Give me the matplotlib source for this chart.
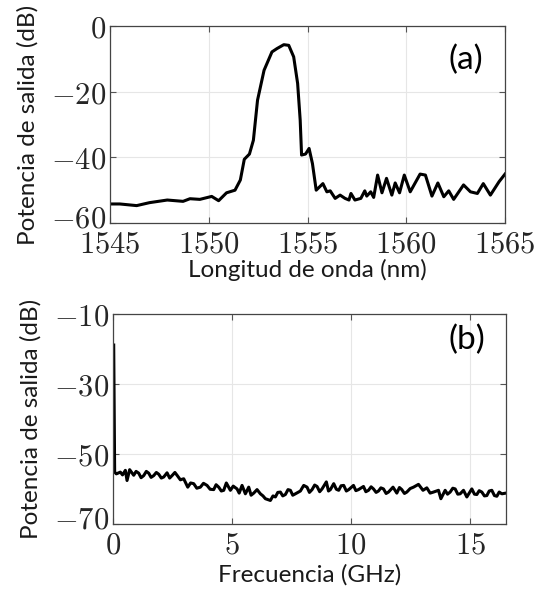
import matplotlib
matplotlib.use("Agg")
import matplotlib.pyplot as plt
from matplotlib.transforms import ScaledTranslation

plt.rcParams['mathtext.fontset'] = 'cm'

# Panel (a): optical spectrum
wl_nm = [1545.0, 1545.5, 1546.35, 1547.0, 1547.9, 1548.7, 1549.05, 1549.55, 1550.15, 1550.5,
         1550.9, 1551.33, 1551.6, 1551.8, 1552.06, 1552.26, 1552.47, 1552.8, 1553.2, 1553.45,
         1553.8, 1554.05, 1554.3, 1554.5, 1554.63, 1554.7, 1554.9, 1555.08, 1555.25, 1555.44,
         1555.78, 1555.98, 1556.15, 1556.4, 1556.65, 1556.9, 1557.1, 1557.2, 1557.4, 1557.7,
         1557.9, 1558.0, 1558.2, 1558.35, 1558.55, 1558.77, 1559.0, 1559.27, 1559.44, 1559.66,
         1559.9, 1560.2, 1560.7, 1560.97, 1561.3, 1561.6, 1561.9, 1562.15, 1562.4, 1562.9,
         1563.25, 1563.6, 1563.9, 1564.26, 1564.7, 1565.0]
power_a = [-54.2, -54.2, -54.7, -53.8, -53.0, -53.4, -52.6, -52.8, -51.9, -53.2,
           -50.8, -50.0, -46.9, -40.6, -39.0, -34.8, -22.6, -13.5, -7.9, -6.9,
           -5.7, -5.9, -9.4, -17.5, -28.7, -39.3, -39.0, -37.3, -41.9, -50.0,
           -48.0, -50.5, -50.2, -52.5, -51.5, -52.5, -53.0, -51.0, -53.0, -52.5,
           -50.2, -51.8, -50.5, -52.2, -45.4, -50.8, -46.4, -51.5, -47.8, -50.8,
           -45.4, -50.5, -45.1, -45.4, -51.8, -47.8, -52.0, -50.2, -52.8, -48.4,
           -50.5, -51.0, -48.0, -51.5, -47.4, -45.1]

# Panel (b): electrical spectrum
freq_ghz = [0.03, 0.07, 0.14, 0.31, 0.40, 0.52, 0.59, 0.70, 0.87, 0.97, 1.08, 1.18, 1.29, 1.40,
            1.50, 1.60, 1.71, 1.82, 1.92, 2.03, 2.13,
            2.27, 2.38, 2.48, 2.60, 2.69, 2.83, 2.97, 3.14, 3.26, 3.39, 3.52, 3.67, 3.80, 3.95,
            4.08, 4.23, 4.33, 4.44, 4.55, 4.65, 4.76, 4.93,
            5.05, 5.21, 5.30, 5.42, 5.56, 5.70, 5.80, 5.91, 6.05, 6.19, 6.30, 6.40, 6.61, 6.72,
            6.82, 6.92, 7.03, 7.13, 7.24, 7.35, 7.45, 7.55, 7.66,
            7.87, 8.01, 8.15, 8.25, 8.36, 8.47, 8.57, 8.68, 8.78, 8.96, 9.05, 9.13, 9.27, 9.38,
            9.48, 9.58, 9.69, 9.80, 9.90, 10.10, 10.20, 10.31,
            10.52, 10.62, 10.73, 10.84, 10.94, 11.05, 11.15, 11.25, 11.36, 11.47, 11.57, 11.76,
            11.92, 12.03, 12.13, 12.24, 12.34, 12.48, 12.62, 12.83,
            13.02, 13.18, 13.32, 13.46, 13.67, 13.77, 13.95, 14.05, 14.16, 14.27, 14.37, 14.48,
            14.58, 14.72, 14.86, 15.07, 15.18,
            15.28, 15.38, 15.49, 15.60, 15.70, 15.80, 15.91, 16.02, 16.12, 16.22, 16.33, 16.50]
power_b = [-18.9, -55.2, -55.7, -55.2, -56.0, -54.7, -57.6, -54.5, -56.1, -55.0, -55.5, -56.8, -56.2, -55.0,
           -55.5, -56.7, -56.2, -55.3, -55.8, -56.9, -56.6,
           -55.4, -56.9, -56.2, -55.3, -56.1, -57.4, -57.1, -59.5, -58.3, -58.5, -59.8, -59.5, -58.4, -59.0,
           -60.1, -60.2, -58.8, -59.5, -60.6, -60.4, -58.3, -60.4,
           -59.2, -60.0, -61.2, -59.0, -61.4, -59.5, -61.8, -61.2, -60.2, -61.4, -62.0, -62.8, -63.3, -62.0,
           -62.3, -61.0, -60.9, -62.0, -61.6, -60.2, -60.4, -61.8, -61.4,
           -60.6, -59.0, -59.5, -61.0, -60.2, -58.9, -59.3, -60.8, -60.0, -58.0, -60.6, -60.2, -58.5, -60.1,
           -60.4, -59.1, -59.0, -60.6, -60.2, -59.0, -60.5, -60.2,
           -59.3, -60.8, -60.4, -59.4, -60.0, -61.0, -60.6, -59.7, -60.0, -61.3, -60.9, -59.5,
           -61.2, -59.6, -60.2, -61.3, -60.9, -59.9, -59.5, -58.7,
           -60.4, -59.7, -61.2, -60.9, -60.4, -62.8, -60.4, -61.5, -60.9, -59.8, -60.0, -61.5,
           -61.4, -60.4, -62.3, -60.0, -61.5,
           -61.6, -60.5, -60.9, -62.0, -61.9, -60.6, -60.4, -61.9, -62.1, -60.9, -61.4, -61.2]

xticks_a = [1545, 1550, 1555, 1560, 1565]
yticks_a = [-60, -40, -20, 0]
xticks_b = [0, 5, 10, 15]
yticks_b = [-70, -50, -30, -10]

ylabel = "Potencia de salida (dB)"
xlabel_a = "Longitud de onda (nm)"
xlabel_b = "Frecuencia (GHz)"

label_font = dict(family='Lato', size=17.5, weight='normal', color='#1a1a1a')
tick_size = 22

fig = plt.figure(figsize=(5.36, 5.90), dpi=100)
ax1 = fig.add_axes([0.2052, 0.622, 0.737, 0.334])
ax2 = fig.add_axes([0.2108, 0.112, 0.733, 0.356])

def style(ax, xt, yt):
    ax.set_xticks(xt)
    ax.set_yticks(yt)
    ax.set_xticklabels([f'${v}$' for v in xt], fontsize=tick_size, color='#262626')
    ax.set_yticklabels([f'${v}$' for v in yt], fontsize=tick_size, color='#262626')
    ax.tick_params(direction='in', top=True, right=True, length=4, width=0.8,
                   color='#555555')
    ax.tick_params(axis='x', pad=5)
    ax.tick_params(axis='y', pad=3)
    ax.grid(True, color='#e6e6e6', linewidth=0.8)
    ax.set_axisbelow(True)
    for s in ax.spines.values():
        s.set_color('#444444')
        s.set_linewidth(0.9)
    lowest = ax.get_yticklabels()[0]
    lowest.set_transform(lowest.get_transform() +
                         ScaledTranslation(0, 0.07, fig.dpi_scale_trans))

ax1.plot(wl_nm, power_a, color='black', linewidth=2.2)
ax1.set_xlim(1545, 1565)
ax1.set_ylim(-60, 0)
style(ax1, xticks_a, yticks_a)
ax1.set_xlabel(xlabel_a, fontdict=label_font, labelpad=0)
ax1.set_ylabel(ylabel, fontdict=label_font, labelpad=9)
ax1.text(0.90, 0.83, '(a)', transform=ax1.transAxes, ha='center', va='center',
         family='Lato', fontsize=24, color='black')

ax2.plot(freq_ghz, power_b, color='black', linewidth=2.2)
ax2.set_xlim(0, 16.5)
ax2.set_ylim(-70, -10)
style(ax2, xticks_b, yticks_b)
ax2.set_xlabel(xlabel_b, fontdict=label_font, labelpad=3)
ax2.set_ylabel(ylabel, fontdict=label_font, labelpad=9)
ax2.text(0.90, 0.875, '(b)', transform=ax2.transAxes, ha='center', va='center',
         family='Lato', fontsize=24, color='black')

fig.savefig('out.png', dpi=100)
